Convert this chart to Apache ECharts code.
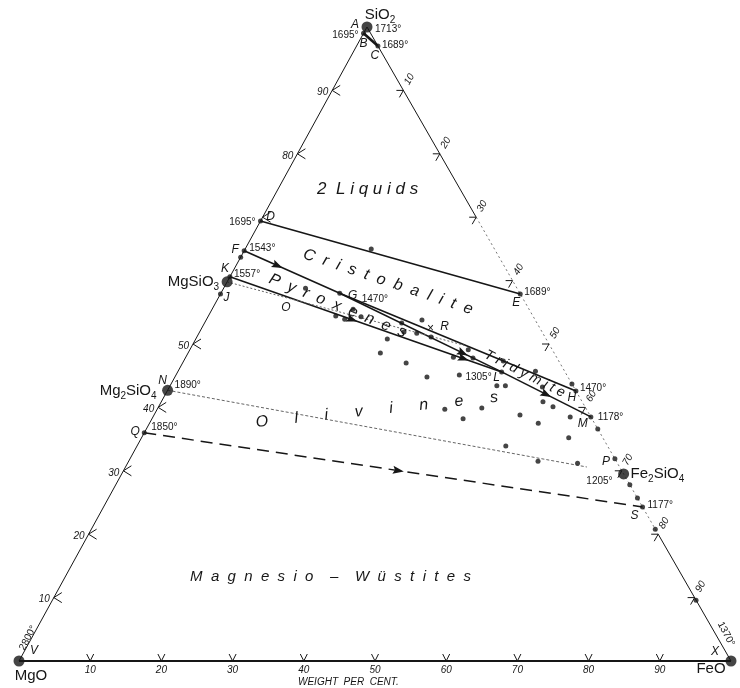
<!DOCTYPE html>
<html><head><meta charset="utf-8">
<script src="https://cdn.jsdelivr.net/npm/echarts@6/dist/echarts.min.js"></script>
<style>html,body{margin:0;padding:0;background:#fff}#c{width:740px;height:688px}</style>
</head><body><div id="c"></div>
<script>
// ---------- DATA (compositions as [SiO2 wt%, FeO wt%]; MgO = remainder) ----------
const tickValues = [10, 20, 30, 40, 50, 60, 70, 80, 90];
const leftTickLabels = ['10', '20', '30', '40', '50', '', '', '80', '90'];

const keyPoints = {
  A: [100, 0], B: [99.0, 0], C: [97.0, 3.0], D: [69.4, 0], E: [57.9, 42.1],
  F: [64.7, 0], G: [58.0, 16.7], H: [42.6, 57.4], J: [57.9, 0], K: [60.6, 0],
  L: [45.6, 45.5], M: [38.5, 61.5], N: [42.7, 0], P: [31.9, 68.1], Q: [36.0, 0],
  R: [52.4, 32.2], S: [24.3, 75.7], V: [0, 0], X: [0, 100]
};
const temperatures = {
  A: '1713°', B: '1695°', C: '1689°', D: '1695°', E: '1689°', F: '1543°', G: '1470°',
  H: '1470°', K: '1557°', L: '1305°', M: '1178°', N: '1890°', Q: '1850°', S: '1177°',
  V: '2800°', X: '1370°', Fe2SiO4: '1205°'
};
const compoundNames = ['SiO2', 'MgSiO3', 'Mg2SiO4', 'Fe2SiO4', 'MgO', 'FeO'];
const compoundSiO2 = [100, 59.8, 42.7, 29.5, 0, 0];
const compoundFeO = [0, 0, 0, 70.5, 0, 100];

const experimentSiO2 = [99.0, 97.0, 69.4, 57.9, 65.0, 64.7, 63.7, 60.6, 57.9, 58.0, 58.8, 55.5, 54.3, 54.4, 53.9,
  53.3, 53.8, 51.9, 51.7, 51.1, 50.8, 48.6, 47.0, 44.8, 45.1, 47.9, 49.1, 47.8, 45.6, 47.3, 43.4, 43.4, 45.7,
  43.2, 40.9, 40.1, 43.7, 42.6, 38.5, 38.5, 36.6, 35.2, 37.5, 31.5, 31.2, 31.9, 27.8, 25.7, 24.3, 20.8, 9.6,
  39.9, 39.7, 38.2, 38.8, 33.9, 36.0];
const experimentFeO = [0, 3.0, 0, 42.1, 17.7, 0, 0, 0, 0, 16.7, 11.5, 19.8, 21.5, 17.9, 19.4,
  27.7, 30.3, 28.7, 30.6, 32.9, 26.9, 27.0, 31.4, 35.4, 39.8, 37.6, 39.1, 40.4, 45.5, 44.9, 45.9, 47.1, 50.2,
  52.4, 53.6, 55.4, 56.3, 57.4, 58.6, 61.5, 63.4, 60.0, 54.6, 57.5, 63.2, 68.1, 72.2, 74.3, 75.7, 79.2, 90.4,
  45.5, 40.4, 43.7, 51.4, 51.8, 0];

const boundaryCurves = [['B', 'C'], ['D', 'E'], ['F', 'G'], ['G', 'H'], ['G', 'L'], ['K', 'L'], ['L', 'M']];
const dashedCurve = ['Q', 'S'];
const pyroxeneJoinEnd = [49.8, 38.2];   // MgSiO3 -> FeSiO3 direction, drawn part
const olivineJoinEnd = [30.6, 64.8];    // Mg2SiO4 -> Fe2SiO4, drawn part

const fieldNames = ['2  L i q u i d s', 'C  r  i  s  t  o  b  a  l  i  t  e', 'P  y  r  o  x  e  n  e  s',
  'T r i d y m i t e', 'O      l      i      v      i      n      e      s',
  'M  a  g  n  e  s  i  o    –    W  ü  s  t  i  t  e  s'];
const fieldSiO2 = [74.4, 59.8, 56.0, 45.3, 39.6, 13.2];
const fieldFeO = [12.6, 22.6, 17.4, 48.9, 30.9, 37.3];

// ---------- LAYOUT ----------
const APEX = (367 - 19) / (731 - 19);
function T(s, f) { return [f + APEX * s, s]; }
const INK = '#161616';

const arrowLayout = [['F', 'G', 0.35], ['K', 'L', 0.45], ['K', 'L', 0.86], ['G', 'L', 0.76], ['L', 'M', 0.5], ['Q', 'S', 0.51]];
const fieldStyle = [
  { rot: 0, size: 17 }, { rot: -18.5, size: 16 }, { rot: -22, size: 16 },
  { rot: -27, size: 14 }, { rot: 6, size: 16 }, { rot: 0, size: 15 }
];

const FONT = '"Liberation Sans", Arial, sans-serif';
const texts = [];
function addText(pos, text, dx, dy, align, size, italic, rotDeg, rich) {
  texts.push({ pos, text, dx, dy, align, size, italic, rot: rotDeg || 0, rich });
}
const sub = { s: { fontSize: 10, padding: [10, 0, 0, 0], fontFamily: FONT } };

// key point letter + temperature offsets (px)
const keyLabelLayout = {
  A: [[-12, -2, 'center'], [8, 2, 'left']],
  B: [[0, 10, 'center'], [-5, 2, 'right']],
  C: [[-3, 10, 'center'], [4, -1, 'left']],
  D: [[10, -4, 'center'], [-5, 1, 'right']],
  E: [[-4, 9, 'center'], [4, -2, 'left']],
  F: [[-9, -1, 'center'], [5, -3, 'left']],
  G: [[13, 2, 'center'], [22, 6, 'left']],
  H: [[-4, 7, 'center'], [4, -3, 'left']],
  J: [[6, 4, 'center'], null],
  K: [[-5, -8, 'center'], [4, -3, 'left']],
  L: [[-5, 6, 'center'], [-10, 5, 'right']],
  M: [[-8, 7, 'center'], [7, 0, 'left']],
  N: [[-5, -10, 'center'], [7, -5, 'left']],
  P: [[-9, 3, 'center'], null],
  Q: [[-9, -1, 'center'], [7, -6, 'left']],
  R: [[14, -2, 'center'], null],
  S: [[-8, 9, 'center'], [5, -2, 'left']],
  V: [[15, -10, 'center'], [9, -23, 'center', 62]],
  X: [[-16, -9, 'center'], [-5, -27, 'center', -62]]
};
Object.keys(keyLabelLayout).forEach(k => {
  const p = T(keyPoints[k][0], keyPoints[k][1]);
  const [lt, tt] = keyLabelLayout[k];
  if (lt) addText(p, k, lt[0], lt[1], lt[2], 12, true, 0);
  if (tt && temperatures[k]) addText(p, temperatures[k], tt[0], tt[1], tt[2], 10, false, tt[3] || 0);
});
addText(T(keyPoints.R[0], keyPoints.R[1]), '×', 0, 0, 'center', 12, false, 0);
addText(T(55.8, 10.2), 'O', 0, 0, 'center', 12, true, 0);

// compound labels
const compoundLayout = {
  SiO2: [13, -12, 'center', 'SiO{s|2}'],
  MgSiO3: [-8, 0, 'right', 'MgSiO{s|3}'],
  Mg2SiO4: [-11, 1, 'right', 'Mg{s|2}SiO{s|4}'],
  Fe2SiO4: [7, 0, 'left', 'Fe{s|2}SiO{s|4}'],
  MgO: [12, 15, 'center', 'MgO'],
  FeO: [-20, 8, 'center', 'FeO']
};
compoundNames.forEach((n, i) => {
  const c = compoundLayout[n];
  addText(T(compoundSiO2[i], compoundFeO[i]), c[3], c[0], c[1], c[2], 15, false, 0, sub);
});
{
  const i = compoundNames.indexOf('Fe2SiO4');
  addText(T(compoundSiO2[i], compoundFeO[i]), temperatures.Fe2SiO4, -11, 7, 'right', 10, false, 0);
}
fieldNames.forEach((n, i) => addText(T(fieldSiO2[i], fieldFeO[i]), n, 0, 0, 'center', fieldStyle[i].size, true, fieldStyle[i].rot));

// ticks (left edge has no tick at 60 where MgSiO3 sits)
const ticks = [];
tickValues.forEach((v, i) => {
  if (v !== 60) ticks.push({ pos: T(v, 0), side: 'left', label: leftTickLabels[i] });
  ticks.push({ pos: T(0, v), side: 'bottom', label: String(v) });
  ticks.push({ pos: T(100 - v, v), side: 'right', label: String(v) });
});

// ---------- CHART ----------
const chart = echarts.init(document.getElementById('c'), null, { renderer: 'canvas' });
const lineBase = { type: 'line', showSymbol: false, symbol: 'none', silent: true, clip: false, animation: false, z: 3 };
function seg(a, b) { return [T(a[0], a[1]), T(b[0], b[1])]; }
const series = [];

// triangle edges
series.push(Object.assign({}, lineBase, { data: seg([0, 0], [100, 0]), lineStyle: { color: INK, width: 1 } }));
series.push(Object.assign({}, lineBase, { data: seg([0, 0], [0, 100]), lineStyle: { color: INK, width: 2 } }));
series.push(Object.assign({}, lineBase, { data: seg([100, 0], [70, 30]), lineStyle: { color: INK, width: 1 } }));
series.push(Object.assign({}, lineBase, { data: seg([70, 30], [20, 80]), lineStyle: { color: '#777', width: 1, type: [2, 3] } }));
series.push(Object.assign({}, lineBase, { data: seg([20, 80], [0, 100]), lineStyle: { color: INK, width: 1 } }));

// boundary curves
boundaryCurves.forEach(([a, b]) => {
  series.push(Object.assign({}, lineBase, {
    data: seg(keyPoints[a], keyPoints[b]),
    lineStyle: { color: INK, width: a === 'B' ? 2.6 : 1.6 }
  }));
});
series.push(Object.assign({}, lineBase, {
  data: seg(keyPoints[dashedCurve[0]], keyPoints[dashedCurve[1]]),
  lineStyle: { color: INK, width: 1.5, type: [12, 7] }
}));
series.push(Object.assign({}, lineBase, {
  data: seg([compoundSiO2[1], compoundFeO[1]], pyroxeneJoinEnd),
  lineStyle: { color: '#666', width: 1, type: [2, 2] }
}));
series.push(Object.assign({}, lineBase, {
  data: seg([compoundSiO2[2], compoundFeO[2]], olivineJoinEnd),
  lineStyle: { color: '#666', width: 1, type: [3, 2] }
}));

// experimental / small points
series.push({
  type: 'scatter', clip: false, animation: false, silent: true, z: 5,
  symbolSize: 5, itemStyle: { color: INK },
  data: experimentSiO2.map((s, i) => T(s, experimentFeO[i]))
});
// compounds
series.push({
  type: 'scatter', clip: false, animation: false, silent: true, z: 6,
  symbolSize: 11, itemStyle: { color: INK },
  data: compoundSiO2.map((s, i) => T(s, compoundFeO[i]))
});

// arrowheads
series.push({
  type: 'custom', clip: false, animation: false, silent: true, z: 6,
  data: arrowLayout.map(([a, b, t]) => {
    const p = T(keyPoints[a][0], keyPoints[a][1]), q = T(keyPoints[b][0], keyPoints[b][1]);
    return [p[0], p[1], q[0], q[1], t];
  }),
  renderItem: function (params, api) {
    const a = api.coord([api.value(0), api.value(1)]);
    const b = api.coord([api.value(2), api.value(3)]);
    const t = api.value(4);
    const x = a[0] + (b[0] - a[0]) * t, y = a[1] + (b[1] - a[1]) * t;
    const ang = Math.atan2(b[1] - a[1], b[0] - a[0]);
    const c = Math.cos(ang), s = Math.sin(ang), L = 11, W = 4;
    const tip = [x + c * L / 2, y + s * L / 2];
    const bx = x - c * L / 2, by = y - s * L / 2;
    return {
      type: 'polygon',
      shape: { points: [tip, [bx - s * W, by + c * W], [bx + c * 2, by + s * 2], [bx + s * W, by - c * W]] },
      style: { fill: INK }
    };
  }
});

// ticks
series.push({
  type: 'custom', clip: false, animation: false, silent: true, z: 4,
  data: ticks.map(t => t.pos),
  renderItem: function (params, api) {
    const tk = ticks[params.dataIndex];
    const p = api.coord([api.value(0), api.value(1)]);
    const x = p[0], y = p[1];
    let pts, label;
    const font = 'italic 10px ' + FONT;
    if (tk.side === 'bottom') {
      pts = [[x - 3.5, y - 7], [x, y], [x + 3.5, y - 7]];
      label = { type: 'text', x: x, y: y + 9, style: { text: tk.label, font, fill: INK, align: 'center', verticalAlign: 'middle' } };
    } else if (tk.side === 'left') {
      pts = [[x + 8, y - 5], [x, y], [x + 8, y + 5]];
      label = { type: 'text', x: x - 4, y: y + 2, style: { text: tk.label, font, fill: INK, align: 'right', verticalAlign: 'middle' } };
    } else {
      pts = [[x - 7, y], [x, y], [x - 4, y + 7]];
      label = { type: 'text', x: x + 6, y: y - 11, rotation: Math.PI / 3, style: { text: tk.label, font, fill: INK, align: 'center', verticalAlign: 'middle' } };
    }
    return {
      type: 'group', children: [
        { type: 'polyline', shape: { points: pts }, style: { stroke: INK, lineWidth: 1, fill: null } },
        label
      ]
    };
  }
});

// texts
series.push({
  type: 'custom', clip: false, animation: false, silent: true, z: 7,
  data: texts.map(t => t.pos),
  renderItem: function (params, api) {
    const t = texts[params.dataIndex];
    const p = api.coord([api.value(0), api.value(1)]);
    const style = {
      text: t.text, fill: INK,
      font: (t.italic ? 'italic ' : '') + t.size + 'px ' + FONT,
      align: t.align, verticalAlign: 'middle'
    };
    if (t.rich) style.rich = t.rich;
    return {
      type: 'text', x: p[0] + t.dx, y: p[1] + t.dy,
      rotation: t.rot * Math.PI / 180,
      style: style
    };
  }
});

chart.setOption({
  animation: false,
  backgroundColor: '#ffffff',
  grid: { left: 19, right: 9, top: 27, bottom: 27, containLabel: false },
  xAxis: { type: 'value', min: 0, max: 100, show: false },
  yAxis: { type: 'value', min: 0, max: 100, show: false },
  graphic: [{
    type: 'text', left: 298, top: 677,
    style: { text: 'WEIGHT  PER  CENT.', font: 'italic 10px ' + FONT, fill: INK }
  }],
  series: series
});
</script>
</body></html>
